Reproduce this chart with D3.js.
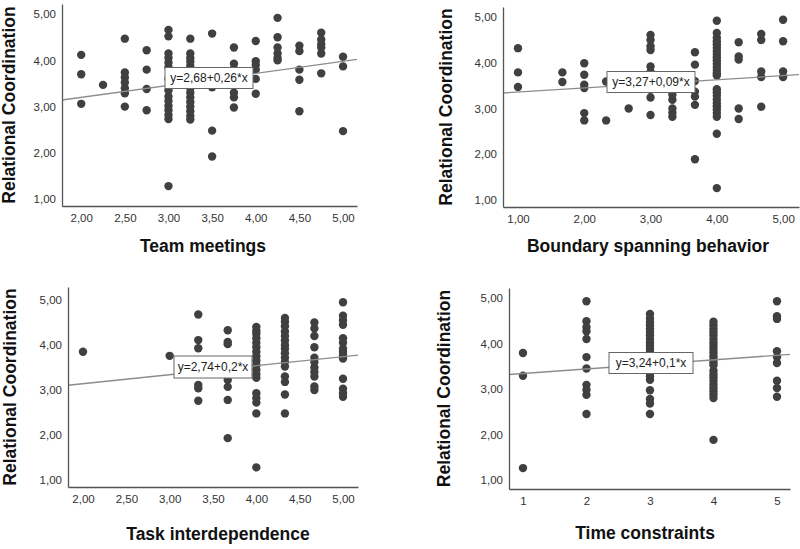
<!DOCTYPE html>
<html>
<head>
<meta charset="utf-8">
<script src="https://cdn.jsdelivr.net/npm/d3@7/dist/d3.min.js"></script>
<style>
html,body{margin:0;padding:0;background:#fff;}
svg{display:block;font-family:"Liberation Sans",Arial,sans-serif;}
</style>
</head>
<body>
<svg id="chart" width="800" height="549"></svg>
<script>
// ---- Data (x value, Relational Coordination) ----
const teamMeetings = [
  [2,4.12],[2,3.7],[2,3.06],
  [2.25,3.47],
  [2.5,4.47],[2.5,3.74],[2.5,3.63],[2.5,3.52],[2.5,3.4],[2.5,3.29],[2.5,3.0],
  [2.75,4.22],[2.75,3.8],[2.75,3.38],[2.75,2.92],
  [3,4.66],[3,4.52],[3,4.15],[3,4.05],[3,3.95],[3,3.85],[3,3.6],[3,3.35],[3,3.22],[3,3.12],[3,3.02],[3,2.92],[3,2.82],[3,2.73],[3,1.28],
  [3.25,4.47],[3.25,4.15],[3.25,4.05],[3.25,3.97],[3.25,3.88],[3.25,3.8],[3.25,3.7],[3.25,3.6],[3.25,3.5],[3.25,3.4],[3.25,3.3],[3.25,3.2],[3.25,3.1],[3.25,3.0],[3.25,2.9],[3.25,2.8],[3.25,2.72],
  [3.5,4.58],[3.5,3.42],[3.5,2.48],[3.5,1.92],
  [3.75,4.28],[3.75,3.93],[3.75,3.82],[3.75,3.5],[3.75,3.3],[3.75,3.2],[3.75,2.98],
  [4,4.42],[4,3.98],[4,3.9],[4,3.8],[4,3.6],[4,3.28],
  [4.25,4.92],[4.25,4.5],[4.25,4.28],[4.25,4.15],[4.25,4.05],[4.25,4.0],
  [4.5,4.32],[4.5,4.2],[4.5,3.8],[4.5,3.58],[4.5,2.9],
  [4.75,4.6],[4.75,4.45],[4.75,4.35],[4.75,4.28],[4.75,4.15],[4.75,3.72],
  [5,4.08],[5,3.87],[5,2.47]
];
const boundarySpanning = [
  [1,4.32],[1,3.79],[1,3.47],
  [1.67,3.79],[1.67,3.58],
  [2,3.99],[2,3.74],[2,3.52],[2,3.45],[2,2.9],[2,2.74],
  [2.33,3.59],[2.33,2.74],
  [2.67,3.0],
  [3,4.61],[3,4.5],[3,4.36],[3,4.28],[3,3.92],[3,3.8],[3,3.41],[3,3.24],[3,2.86],
  [3.33,3.41],[3.33,3.3],[3.33,3.19],[3.33,3.0],[3.33,2.91],[3.33,2.82],
  [3.67,4.23],[3.67,3.96],[3.67,3.6],[3.67,3.37],[3.67,3.26],[3.67,3.08],[3.67,1.89],
  [4,4.92],[4,4.65],[4,4.55],[4,4.47],[4,4.4],[4,4.33],[4,4.26],[4,4.19],[4,4.12],[4,4.05],[4,3.98],[4,3.91],[4,3.84],[4,3.77],[4,3.72],
  [4,3.42],[4,3.35],[4,3.28],[4,3.2],[4,3.12],[4,3.05],[4,2.98],[4,2.9],[4,2.82],[4,2.45],[4,1.26],
  [4.33,4.45],[4.33,4.14],[4.33,4.07],[4.33,3.0],[4.33,2.77],
  [4.67,4.63],[4.67,4.5],[4.67,3.81],[4.67,3.69],[4.67,3.04],
  [5,4.94],[5,4.47],[5,3.81],[5,3.69]
];
const taskInterdependence = [
  [2,3.85],
  [3,3.76],
  [3.33,4.68],[3.33,4.11],[3.33,3.93],[3.33,3.11],[3.33,3.04],[3.33,2.76],
  [3.67,4.33],[3.67,4.07],[3.67,4.02],[3.67,3.33],[3.67,3.22],[3.67,3.07],[3.67,2.78],[3.67,1.93],
  [4,4.4],[4,4.32],[4,4.25],[4,4.15],[4,4.05],[4,3.95],[4,3.85],[4,3.75],[4,3.65],[4,3.55],[4,3.45],[4,3.35],[4,3.27],[4,2.93],[4,2.82],[4,2.72],[4,2.48],[4,1.28],
  [4.33,4.6],[4.33,4.52],[4.33,4.42],[4.33,4.3],[4.33,4.2],[4.33,4.1],[4.33,4.0],[4.33,3.92],[4.33,3.82],[4.33,3.72],[4.33,3.62],[4.33,3.52],[4.33,3.3],[4.33,3.18],[4.33,2.9],[4.33,2.48],
  [4.67,4.5],[4.67,4.37],[4.67,4.2],[4.67,3.95],[4.67,3.72],[4.67,3.62],[4.67,3.5],[4.67,3.4],[4.67,3.3],[4.67,3.08],[4.67,3.0],
  [5,4.95],[5,4.65],[5,4.55],[5,4.45],[5,4.15],[5,4.05],[5,3.92],[5,3.85],[5,3.78],[5,3.7],[5,3.25],[5,3.03],[5,2.93],[5,2.85]
];
const timeConstraints = [
  [1,3.79],[1,3.29],[1,1.26],
  [2,4.93],[2,4.49],[2,4.36],[2,4.27],[2,4.1],[2,3.7],[2,3.45],[2,3.09],[2,2.98],[2,2.87],[2,2.45],
  [3,4.65],[3,4.55],[3,4.47],[3,4.4],[3,4.32],[3,4.25],[3,4.18],[3,4.1],[3,4.02],[3,3.95],[3,3.88],[3,3.8],[3,3.72],[3,3.65],[3,3.58],[3,3.5],[3,3.42],[3,3.35],[3,3.28],[3,3.2],[3,2.97],[3,2.78],[3,2.68],[3,2.45],
  [4,4.48],[4,4.4],[4,4.32],[4,4.25],[4,4.18],[4,4.1],[4,4.02],[4,3.95],[4,3.88],[4,3.8],[4,3.72],[4,3.65],[4,3.58],[4,3.52],[4,3.4],[4,3.32],[4,3.25],[4,3.18],[4,3.1],[4,3.02],[4,2.95],[4,2.88],[4,2.8],[4,1.88],
  [5,4.93],[5,4.6],[5,4.54],[5,3.83],[5,3.7],[5,3.57],[5,3.18],[5,3.02],[5,2.83]
];

// Regression coefficients [intercept, slope] and equation labels
const fits = [[2.68,0.26],[3.27,0.09],[2.74,0.2],[3.24,0.1]];
const fitLabels = ["y=2,68+0,26*x","y=3,27+0,09*x","y=2,74+0,2*x","y=3,24+0,1*x"];
const xTitles = ["Team meetings","Boundary spanning behavior","Task interdependence","Time constraints"];
const yTitle = "Relational Coordination";
const xTicksHalf = [2,2.5,3,3.5,4,4.5,5];
const xTicksWhole = [1,2,3,4,5];
const yTicks = [1,2,3,4,5];

// ---- Layout ----
const panels = [
  {data: teamMeetings, left:62, right:357, top:4, bottom:206, xd:[1.78,5.16], yd:[0.85,5.22], xt:xTicksHalf, fmt:"c2",
   yTitleX:9, xTitleX:203, xTitleY:252, box:[209,78,88,21]},
  {data: boundarySpanning, left:503, right:799, top:7, bottom:207, xd:[0.774,5.24], yd:[0.847,5.22], xt:xTicksWhole, fmt:"c2",
   yTitleX:446, xTitleX:648, xTitleY:252, box:[651,82,88,21]},
  {data: taskInterdependence, left:68, right:358, top:287, bottom:487, xd:[1.827,5.173], yd:[0.844,5.29], xt:xTicksHalf, fmt:"c2",
   yTitleX:10, xTitleX:218, xTitleY:540, box:[213,367,78,22]},
  {data: timeConstraints, left:509, right:790, top:288, bottom:489, xd:[0.78,5.205], yd:[0.80,5.22], xt:xTicksWhole, fmt:"int",
   yTitleX:444, xTitleX:645, xTitleY:539, box:[651,363,84,21]}
];

const locale = d3.formatLocale({decimal:",", thousands:".", grouping:[3], currency:["","€"]});
const f2 = locale.format(".2f");
const svg = d3.select("#chart");

panels.forEach((p, i) => {
  const x = d3.scaleLinear().domain(p.xd).range([p.left, p.right]);
  const y = d3.scaleLinear().domain(p.yd).range([p.bottom, p.top]);
  const g = svg.append("g");

  const clipId = "clip" + i;
  svg.append("clipPath").attr("id", clipId).append("rect")
    .attr("x", p.left).attr("y", p.top).attr("width", p.right - p.left).attr("height", p.bottom - p.top);

  // points
  g.append("g").selectAll("circle").data(p.data).join("circle")
    .attr("cx", d => x(d[0])).attr("cy", d => y(d[1])).attr("r", 4.2)
    .attr("fill", "#404040");

  // regression line
  const [a, b] = fits[i];
  g.append("line").attr("clip-path", `url(#${clipId})`)
    .attr("x1", x(p.xd[0])).attr("y1", y(a + b * p.xd[0]))
    .attr("x2", x(p.xd[1])).attr("y2", y(a + b * p.xd[1]))
    .attr("stroke", "#8c8c8c").attr("stroke-width", 1.3);

  // axes
  const xAxis = d3.axisBottom(x).tickValues(p.xt).tickSize(0).tickSizeOuter(0).tickPadding(8)
    .tickFormat(p.fmt === "int" ? d3.format("d") : f2);
  const yAxis = d3.axisLeft(y).tickValues(yTicks).tickSize(0).tickSizeOuter(0).tickPadding(6)
    .tickFormat(f2);
  const gx = g.append("g").attr("transform", `translate(0,${p.bottom})`).call(xAxis);
  const gy = g.append("g").attr("transform", `translate(${p.left},0)`).call(yAxis);
  [gx, gy].forEach(ax => {
    ax.select(".domain").attr("stroke", "#555").attr("stroke-width", 1.3);
    ax.selectAll("text").attr("font-size", 11.5).attr("fill", "#333")
      .attr("font-family", "'Liberation Sans', Arial, sans-serif");
  });

  // equation box
  const [bx, by, bw, bh] = p.box;
  g.append("rect").attr("x", bx - bw / 2).attr("y", by - bh / 2).attr("width", bw).attr("height", bh)
    .attr("fill", "#fff").attr("stroke", "#666").attr("stroke-width", 1);
  g.append("text").attr("x", bx).attr("y", by).attr("dy", "0.36em").attr("text-anchor", "middle")
    .attr("font-size", 12).attr("fill", "#222").text(fitLabels[i]);

  // titles
  g.append("text").attr("x", p.xTitleX).attr("y", p.xTitleY).attr("text-anchor", "middle")
    .attr("font-size", 17.5).attr("font-weight", "bold").attr("fill", "#111").text(xTitles[i]);
  const yc = (p.top + p.bottom) / 2;
  g.append("text").attr("transform", `translate(${p.yTitleX},${yc}) rotate(-90)`)
    .attr("text-anchor", "middle").attr("dy", "0.35em")
    .attr("font-size", 17.5).attr("font-weight", "bold").attr("fill", "#111").text(yTitle);
});
</script>
</body>
</html>
